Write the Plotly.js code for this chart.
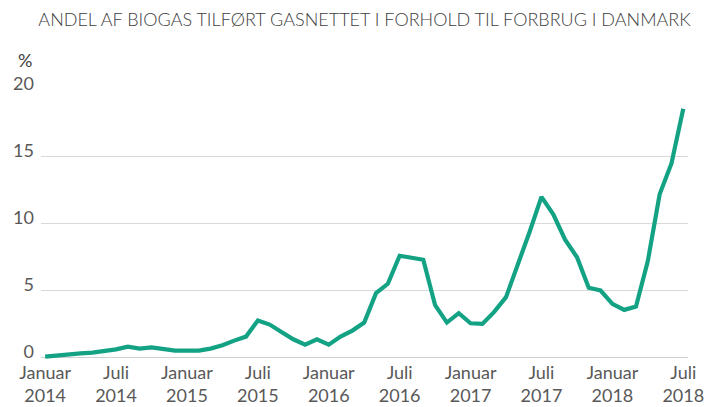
<!DOCTYPE html>
<html>
<head>
<meta charset="utf-8">
<script src="https://cdn.plot.ly/plotly-3.0.1.min.js"></script>
<style>html,body{margin:0;padding:0;background:#fff;}#chart{width:707px;height:407px;}</style>
</head>
<body>
<div id="chart"></div>
<script>
// Monthly categories Jan 2014 .. Jul 2018
const months = [
  "2014-01","2014-02","2014-03","2014-04","2014-05","2014-06","2014-07","2014-08","2014-09","2014-10","2014-11","2014-12",
  "2015-01","2015-02","2015-03","2015-04","2015-05","2015-06","2015-07","2015-08","2015-09","2015-10","2015-11","2015-12",
  "2016-01","2016-02","2016-03","2016-04","2016-05","2016-06","2016-07","2016-08","2016-09","2016-10","2016-11","2016-12",
  "2017-01","2017-02","2017-03","2017-04","2017-05","2017-06","2017-07","2017-08","2017-09","2017-10","2017-11","2017-12",
  "2018-01","2018-02","2018-03","2018-04","2018-05","2018-06","2018-07"
];
// Share of biogas in gas grid (%)
const share = [
  0.05,0.15,0.25,0.3,0.35,0.45,0.6,0.8,0.65,0.75,0.6,0.5,
  0.5,0.5,0.65,0.9,1.25,1.55,2.75,2.45,1.9,1.35,0.95,1.35,
  0.95,1.55,2.0,2.6,4.8,5.5,7.6,7.45,7.3,3.9,2.6,3.3,
  2.55,2.5,3.4,4.5,6.9,9.4,12.0,10.7,8.8,7.5,5.2,5.0,
  4.0,3.55,3.8,7.2,12.2,14.5,18.6
];
const tickMonths = ["2014-01","2014-07","2015-01","2015-07","2016-01","2016-07","2017-01","2017-07","2018-01","2018-07"];
const tickLabels = ["Januar<br>2014","Juli<br>2014","Januar<br>2015","Juli<br>2015","Januar<br>2016","Juli<br>2016","Januar<br>2017","Juli<br>2017","Januar<br>2018","Juli<br>2018"];
const yTicks = [0,5,10,15,20];

const fontFam = "Lato, 'Open Sans', sans-serif";
const data = [{
  type: "scatter",
  mode: "lines",
  x: months,
  y: share,
  line: {color: "#13a384", width: 4.2, shape: "linear"},
  hoverinfo: "skip"
}];
const layout = {
  width: 707, height: 407,
  margin: {l: 41, r: 19, t: 90, b: 47},
  paper_bgcolor: "#ffffff",
  plot_bgcolor: "#ffffff",
  showlegend: false,
  title: {
    text: "ANDEL AF BIOGAS TILFØRT GASNETTET I FORHOLD TIL FORBRUG I DANMARK",
    font: {family: fontFam, size: 18, color: "#404040", weight: 300},
    x: 0.5, xref: "paper", xanchor: "center",
    y: 0.951, yref: "container", yanchor: "middle"
  },
  xaxis: {
    type: "category",
    range: [-0.35, 54.4],
    tickvals: tickMonths,
    ticktext: tickLabels,
    tickfont: {family: fontFam, size: 18, color: "#595959"},
    showgrid: false,
    showline: false,
    zeroline: false,
    ticks: "",
    tickangle: 0
  },
  yaxis: {
    range: [-0.2, 20],
    tickvals: yTicks,
    ticktext: yTicks.map(String),
    tickfont: {family: fontFam, size: 18, color: "#595959"},
    showgrid: true,
    gridcolor: "#d9d9d9",
    gridwidth: 1,
    zeroline: true,
    zerolinecolor: "#d0d0d0",
    zerolinewidth: 1,
    showline: false,
    ticks: "",
    ticklabelstandoff: 6,
    ticklabelshift: -6
  },
  annotations: [{
    text: "%",
    xref: "paper", yref: "paper",
    x: -0.025, y: 1.111,
    xanchor: "center", yanchor: "middle",
    showarrow: false,
    font: {family: fontFam, size: 18, color: "#404040"}
  }]
};
Plotly.newPlot("chart", data, layout, {displayModeBar: false, staticPlot: true});
</script>
</body>
</html>
